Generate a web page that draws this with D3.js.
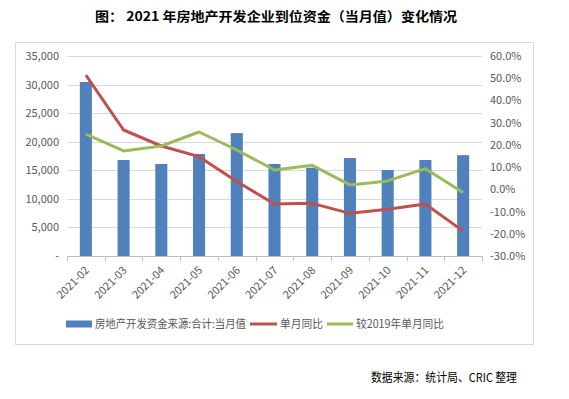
<!DOCTYPE html>
<html>
<head>
<meta charset="utf-8">
<script src="https://cdn.jsdelivr.net/npm/d3@7"></script>
<style>
  body { margin: 0; background: #fff; }
  text { font-family: "Noto Sans CJK SC", "Noto Sans", sans-serif; }
</style>
</head>
<body>
<svg id="chart" width="569" height="399"></svg>
<script>
const months = ['2021-02', '2021-03', '2021-04', '2021-05', '2021-06', '2021-07',
  '2021-08', '2021-09', '2021-10', '2021-11', '2021-12']
const funds = [30450, 16800, 16100, 17850, 21500, 16100, 15450, 17150, 15050, 16800, 17650]
const yoy = [51.4, 26.7, 19.5, 14.7, 3.5, -6.6, -6.3, -10.8, -9.0, -6.6, -18.8]
const vs2019 = [24.8, 17.3, 19.5, 25.8, 17.7, 8.7, 10.8, 2.0, 3.8, 9.3, -1.4]
const leftTicks = [0, 5000, 10000, 15000, 20000, 25000, 30000, 35000]
const rightTicks = [-30, -20, -10, 0, 10, 20, 30, 40, 50, 60]

const seriesNames = ['房地产开发资金来源:合计:当月值', '单月同比', '较2019年单月同比']
const colors = ['#4f81bd', '#c0504d', '#9bbb59']

const svg = d3.select('#chart')
const plotLeft = 67
const plotRight = 482
const plotTop = 56
const plotBottom = 256

svg.append('text')
  .attr('x', 95)
  .attr('y', 21)
  .attr('font-size', 13)
  .attr('font-weight', 'bold')
  .attr('textLength', 362)
  .attr('lengthAdjust', 'spacingAndGlyphs')
  .text('图：  2021 年房地产开发企业到位资金（当月值）变化情况')

svg.append('rect')
  .attr('x', 15.5).attr('y', 42.5)
  .attr('width', 518).attr('height', 302)
  .attr('fill', 'none')
  .attr('stroke', '#d9d9d9')

const x = d3.scaleBand(months, [plotLeft, plotRight]).paddingInner(0.68).paddingOuter(0.34)
const xCenter = d => x(d) + x.bandwidth() / 2
const yLeft = d3.scaleLinear([0, 35000], [plotBottom, plotTop])
const yRight = d3.scaleLinear([-30, 60], [plotBottom, plotTop])

svg.append('g')
  .selectAll('line')
  .data(leftTicks.slice(1))
  .join('line')
  .attr('x1', plotLeft).attr('x2', plotRight)
  .attr('y1', d => Math.round(yLeft(d)) + 0.5)
  .attr('y2', d => Math.round(yLeft(d)) + 0.5)
  .attr('stroke', '#d9d9d9')

const leftAxis = svg.append('g')
  .attr('transform', `translate(${plotLeft - 4}, 0)`)
  .call(d3.axisLeft(yLeft).tickValues(leftTicks)
    .tickFormat(d => d === 0 ? '-' : d3.format(',')(d)).tickSize(0).tickPadding(4))
leftAxis.select('.domain').remove()
leftAxis.selectAll('text').attr('fill', '#595959').attr('font-size', 11)

const rightAxis = svg.append('g')
  .attr('transform', `translate(${plotRight + 4}, 0)`)
  .call(d3.axisRight(yRight).tickValues(rightTicks)
    .tickFormat(d => d.toFixed(1) + '%').tickSize(0).tickPadding(4))
rightAxis.select('.domain').remove()
rightAxis.selectAll('text').attr('fill', '#595959').attr('font-size', 11)

svg.append('g')
  .selectAll('rect')
  .data(funds)
  .join('rect')
  .attr('x', (d, i) => x(months[i]))
  .attr('y', d => yLeft(d))
  .attr('width', x.bandwidth())
  .attr('height', d => yLeft(0) - yLeft(d))
  .attr('fill', colors[0])

// x axis with ticks between categories
const boundaries = d3.range(months.length + 1).map(i => plotLeft + i * (plotRight - plotLeft) / months.length)
svg.append('line')
  .attr('x1', plotLeft).attr('x2', plotRight)
  .attr('y1', plotBottom + 0.5).attr('y2', plotBottom + 0.5)
  .attr('stroke', '#bfbfbf')
svg.append('g')
  .selectAll('line')
  .data(boundaries)
  .join('line')
  .attr('x1', d => Math.round(d) + 0.5).attr('x2', d => Math.round(d) + 0.5)
  .attr('y1', plotBottom).attr('y2', plotBottom + 5)
  .attr('stroke', '#bfbfbf')

svg.append('g')
  .selectAll('text')
  .data(months)
  .join('text')
  .attr('transform', d => `translate(${xCenter(d) + 4}, ${plotBottom + 15}) rotate(-45)`)
  .attr('text-anchor', 'end')
  .attr('font-size', 11)
  .attr('fill', '#595959')
  .text(d => d)

const line = d3.line()
  .x((d, i) => xCenter(months[i]))
  .y(d => yRight(d))

;[yoy, vs2019].forEach((series, k) => {
  svg.append('path')
    .datum(series)
    .attr('d', line)
    .attr('fill', 'none')
    .attr('stroke', colors[k + 1])
    .attr('stroke-width', 3)
    .attr('stroke-linejoin', 'round')
})

// legend
const legendY = 324
const legend = svg.append('g')
const items = [
  { x: 66, w: 26, h: 7, tw: 151, name: seriesNames[0], color: colors[0] },
  { x: 250, w: 27, h: 3, tw: 43, name: seriesNames[1], color: colors[1] },
  { x: 327, w: 26, h: 3, tw: 88, name: seriesNames[2], color: colors[2] }
]
items.forEach(it => {
  legend.append('rect')
    .attr('x', it.x).attr('y', legendY - it.h / 2)
    .attr('width', it.w).attr('height', it.h)
    .attr('fill', it.color)
  legend.append('text')
    .attr('x', it.x + it.w + 3)
    .attr('y', legendY)
    .attr('dy', '0.35em')
    .attr('font-size', 11.5)
    .attr('fill', '#595959')
    .attr('textLength', it.tw)
    .attr('lengthAdjust', 'spacingAndGlyphs')
    .text(it.name)
})

svg.append('text')
  .attr('x', 371)
  .attr('y', 382)
  .attr('font-size', 12)
  .attr('fill', '#000')
  .attr('textLength', 146)
  .attr('lengthAdjust', 'spacingAndGlyphs')
  .text('数据来源：统计局、CRIC 整理')
</script>
</body>
</html>
